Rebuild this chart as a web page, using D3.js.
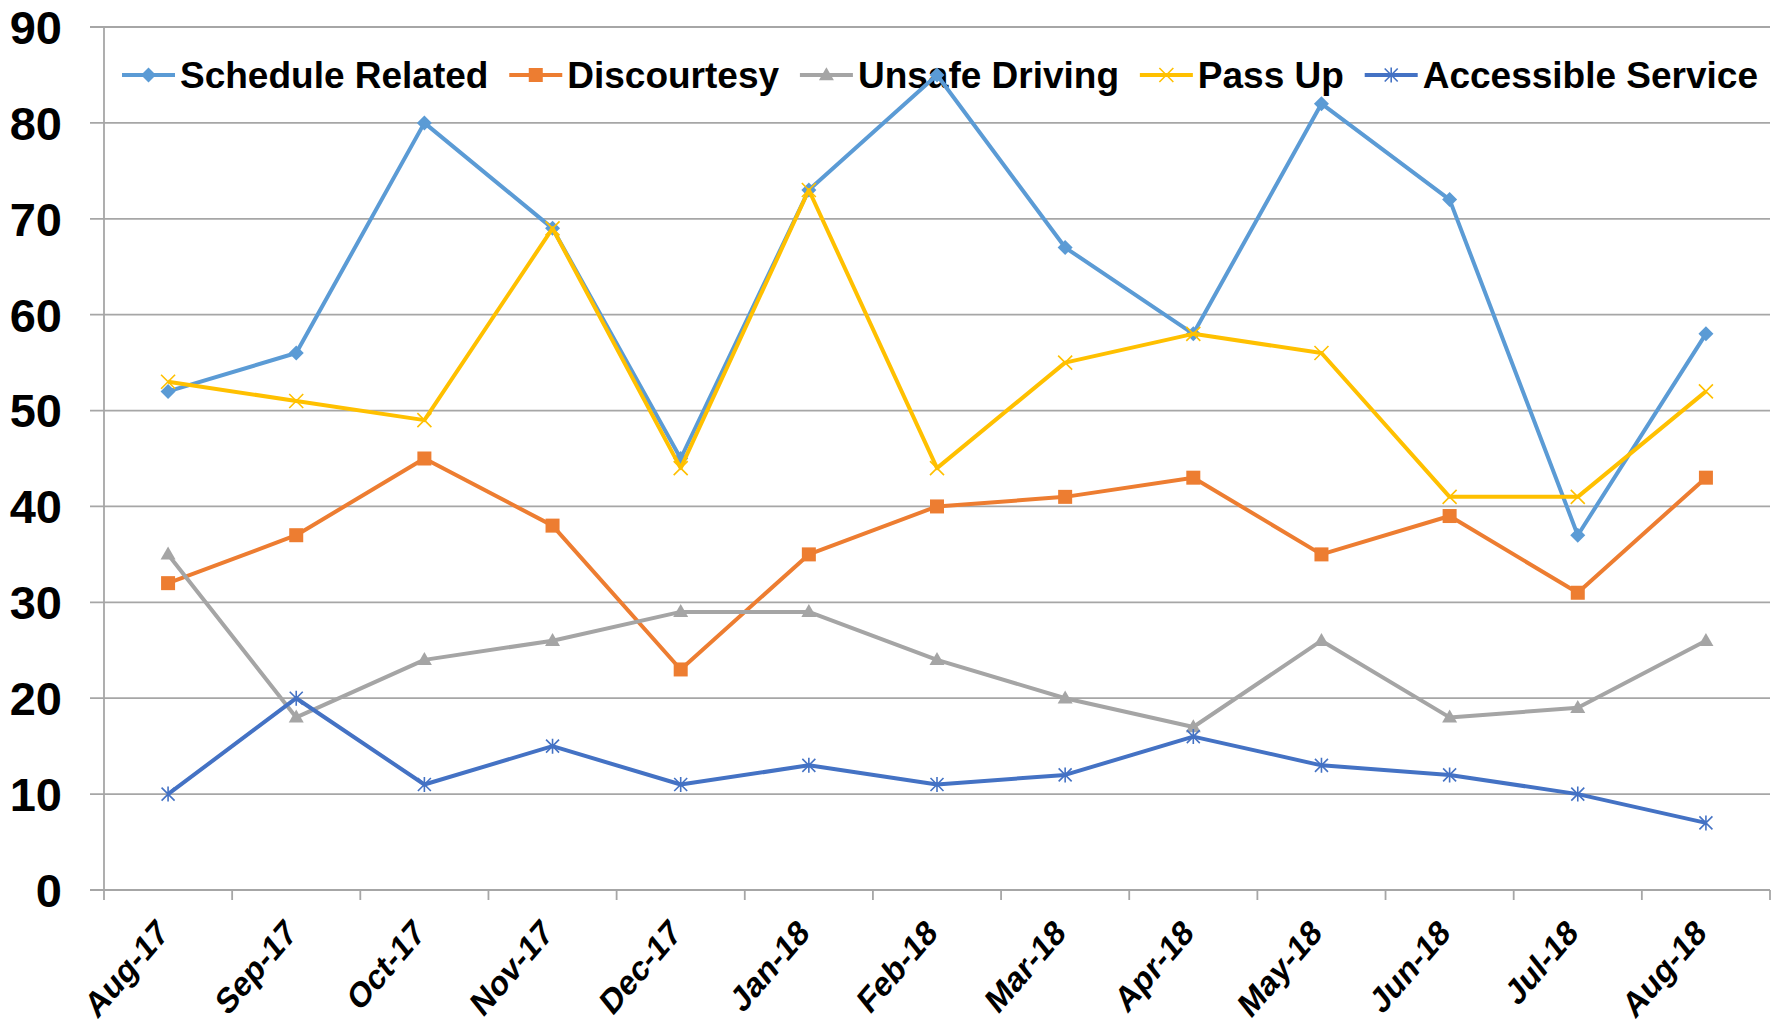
<!DOCTYPE html>
<html>
<head>
<meta charset="utf-8">
<script src="https://cdn.jsdelivr.net/npm/d3@7"></script>
<style>
  html, body { margin: 0; padding: 0; background: #fff; }
  text { font-family: "Liberation Sans", Arial, sans-serif; font-weight: bold; fill: #000; }
</style>
</head>
<body>
<svg id="chart" width="1783" height="1029"></svg>
<script>
const categories = ["Aug-17","Sep-17","Oct-17","Nov-17","Dec-17","Jan-18","Feb-18","Mar-18","Apr-18","May-18","Jun-18","Jul-18","Aug-18"];
const seriesNames = ["Schedule Related","Discourtesy","Unsafe Driving","Pass Up","Accessible Service"];
const scheduleRelated = [52,56,80,69,45,73,85,67,58,82,72,37,58];
const discourtesy = [32,37,45,38,23,35,40,41,43,35,39,31,43];
const unsafeDriving = [35,18,24,26,29,29,24,20,17,26,18,19,26];
const passUp = [53,51,49,69,44,73,44,55,58,56,41,41,52];
const accessibleService = [10,20,11,15,11,13,11,12,16,13,12,10,7];
const yTicks = [0,10,20,30,40,50,60,70,80,90];
const colors = ["#5B9BD5","#ED7D31","#A5A5A5","#FFC000","#4472C4"];
const markers = ["diamond","square","triangle","x","star"];

const seriesValues = [scheduleRelated, discourtesy, unsafeDriving, passUp, accessibleService];
const series = seriesNames.map((n,i)=>({name:n, values:seriesValues[i], color:colors[i], marker:markers[i]}));

const svg = d3.select("#chart");
const margin = {left:104, right:13, top:27, bottom:139};
const W = 1783, H = 1029;
const x0 = margin.left, x1 = W - margin.right, y0 = H - margin.bottom, y1 = margin.top;

const x = d3.scaleBand().domain(categories).range([x0, x1]).paddingInner(0).paddingOuter(0);
const y = d3.scaleLinear().domain([0,90]).range([y0, y1]);
const cx = c => x(c) + x.bandwidth()/2;

const gridColor = "#A6A6A6";

// gridlines
svg.append("g").selectAll("line").data(yTicks).join("line")
  .attr("x1", x0 - 14).attr("x2", x1)
  .attr("y1", d=>y(d)).attr("y2", d=>y(d))
  .attr("stroke", gridColor).attr("stroke-width", 1.8);

// y axis line
svg.append("line").attr("x1", x0).attr("x2", x0).attr("y1", y1).attr("y2", y0)
  .attr("stroke", gridColor).attr("stroke-width", 1.8);

// x ticks (category boundaries)
const bounds = categories.map(c=>x(c)).concat([x1]);
svg.append("g").selectAll("line").data(bounds).join("line")
  .attr("x1", d=>d).attr("x2", d=>d).attr("y1", y0).attr("y2", y0 + 10)
  .attr("stroke", gridColor).attr("stroke-width", 1.8);

// y labels
svg.append("g").selectAll("text").data(yTicks).join("text")
  .attr("x", 62).attr("y", d=>y(d)).attr("dy", "0.36em")
  .attr("text-anchor", "end").style("font-size", "47px").text(d=>d);

// x labels
svg.append("g").selectAll("text").data(categories).join("text")
  .attr("text-anchor", "end").style("font-size", "36px")
  .attr("transform", d=>`translate(${cx(d)+2},${y0+45}) scale(0.83,1) rotate(-44)`)
  .text(d=>d);

// marker drawer
function drawMarker(g, type, color, px, py) {
  if (type === "diamond") {
    const s = 7.5;
    g.append("path").attr("d", `M${px},${py-s}L${px+s},${py}L${px},${py+s}L${px-s},${py}Z`).attr("fill", color);
  } else if (type === "square") {
    const s = 7;
    g.append("rect").attr("x", px-s).attr("y", py-s).attr("width", 2*s).attr("height", 2*s).attr("fill", color);
  } else if (type === "triangle") {
    const w = 7.5, h = 13;
    g.append("path").attr("d", `M${px},${py-h*0.6}L${px+w},${py+h*0.4}L${px-w},${py+h*0.4}Z`).attr("fill", color);
  } else if (type === "x") {
    const s = 7;
    g.append("path").attr("d", `M${px-s},${py-s}L${px+s},${py+s}M${px-s},${py+s}L${px+s},${py-s}`)
      .attr("stroke", color).attr("stroke-width", 1.6).attr("fill", "none");
  } else if (type === "star") {
    const s = 6.5;
    g.append("path").attr("d", `M${px-s},${py-s}L${px+s},${py+s}M${px-s},${py+s}L${px+s},${py-s}M${px},${py-s-1}L${px},${py+s+1}`)
      .attr("stroke", color).attr("stroke-width", 1.6).attr("fill", "none");
  }
}

// legend
const legendY = 75;
const lg = svg.append("g");
const lineLen = 53, gapAfterLine = 5;
const texts = series.map(s => lg.append("text").style("font-size", "37px").attr("y", legendY).attr("dy", "0.35em").text(s.name));
const widths = texts.map(t => t.node().getComputedTextLength());
const legStart = 122, legEnd = 1758;
const totalText = d3.sum(widths);
const gap = (legEnd - legStart - series.length*(lineLen+gapAfterLine) - totalText) / (series.length - 1);
let cursor = legStart;
series.forEach((s,i) => {
  lg.append("line").attr("x1", cursor).attr("x2", cursor+lineLen).attr("y1", legendY).attr("y2", legendY)
    .attr("stroke", s.color).attr("stroke-width", 4);
  drawMarker(lg, s.marker, s.color, cursor + lineLen/2, legendY);
  texts[i].attr("x", cursor + lineLen + gapAfterLine);
  cursor += lineLen + gapAfterLine + widths[i] + gap;
});

// lines
const line = d3.line().x((d,i)=>cx(categories[i])).y(d=>y(d));
series.forEach(s => {
  const g = svg.append("g");
  g.append("path").datum(s.values).attr("d", line).attr("fill", "none")
    .attr("stroke", s.color).attr("stroke-width", 4).attr("stroke-linejoin", "round");
  s.values.forEach((v,i) => drawMarker(g, s.marker, s.color, cx(categories[i]), y(v)));
});
</script>
</body>
</html>
